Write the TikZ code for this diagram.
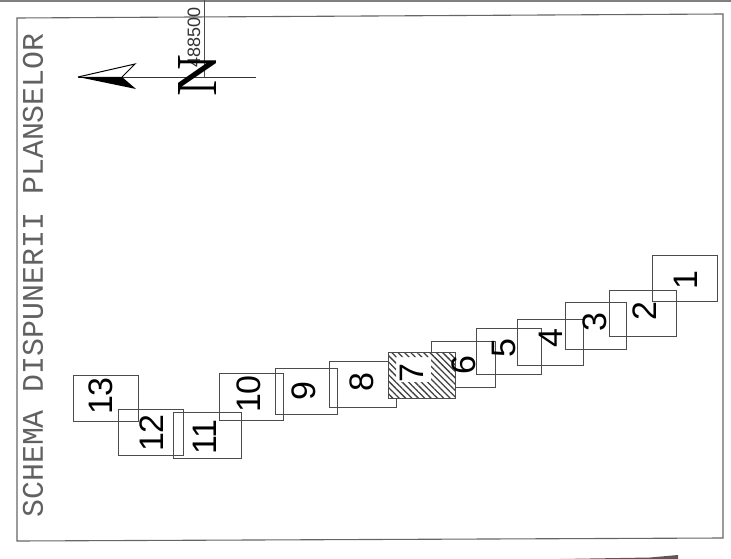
\documentclass[tikz,border=0pt]{standalone}
\usepackage{fontspec}
\setmainfont{Liberation Sans}
\newfontfamily\titlefont{Liberation Mono}
\newfontfamily\northfont{Liberation Serif}
\usetikzlibrary{patterns.meta}
\tikzset{
  sheet/.style={draw=black!70,line width=0.8pt},
  sheetnum/.style={font=\fontsize{34}{34}\selectfont,text=black,rotate=90,inner sep=0pt},
  frameline/.style={draw=black!60,line width=1.1pt}
}
\begin{document}
\begin{tikzpicture}[x=1pt,y=-1pt]
\useasboundingbox (0,0) rectangle (731,559);
\fill[white] (0,0) rectangle (731,559);
\draw[draw=black!50,line width=2pt] (0,1) -- (731,1);
\draw[frameline] (17,18) -- (723,14) -- (723,538) -- (17,541) -- cycle;
\fill[black!65] (560,559) -- (650,557.5) -- (678,555) -- (678,559) -- cycle;

\node[font=\fontsize{29.9}{30}\selectfont\titlefont,text=black!62,rotate=90,inner sep=0pt] (title) at (33,275.5) {SCHEMA DISPUNERII PLANSELOR};

% north arrow
\coordinate (tip) at (78,77);
\coordinate (tail) at (256,77);
\coordinate (notch) at (122,77);
\coordinate (grid) at (204,0);
\draw[black!80,line width=0.7pt] (tip) -- (tail);
\draw[black!70,line width=0.8pt] (grid) -- (204,77);
\fill[black] (tip) -- (136,89) -- (notch) -- cycle;
\draw[black,line width=1pt] (tip) -- (135,64) -- (notch);
\node[font=\fontsize{18}{18}\selectfont,text=black!80,rotate=90,inner sep=0pt,anchor=east] (coord) at (194,7) {488500};
\node[font=\fontsize{58}{58}\selectfont\northfont,text=black,rotate=90,inner sep=0pt] (north) at (198,76) {N};

% sheets
\draw[sheet] (652,255) rectangle (717,301);
\draw[sheet] (609,290) rectangle (676,336);
\draw[sheet] (565,302) rectangle (626,349);
\draw[sheet] (517,319) rectangle (583,365);
\draw[sheet] (476,328) rectangle (541,374);
\draw[sheet] (431,341) rectangle (495,387);
\draw[sheet] (329,361) rectangle (396,407);
\draw[sheet] (275,368) rectangle (337,414);
\draw[sheet] (219,373) rectangle (283,420);
\draw[sheet] (173,412) rectangle (241,458);
\draw[sheet] (118,409) rectangle (183,455);
\draw[sheet] (73,375) rectangle (138,421);
\fill[white] (388,352) rectangle (455,398);
\fill[pattern={Lines[angle=-45,distance=4.5pt,line width=1.3pt]},pattern color=black!75,even odd rule] (388,352) rectangle (455,398) (396,357) rectangle (431,382);
\draw[sheet] (388,352) rectangle (455,398);

\node[sheetnum] (n1) at (686,280) {1};
\node[sheetnum] (n2) at (645,311) {2};
\node[sheetnum] (n3) at (595,322) {3};
\node[sheetnum] (n4) at (551,338) {4};
\node[sheetnum] (n5) at (504,348) {5};
\node[sheetnum] (n6) at (464,365) {6};
\node[sheetnum] (n7) at (412,373) {7};
\node[sheetnum] (n8) at (362,382) {8};
\node[sheetnum] (n9) at (304,391) {9};
\node[sheetnum] (n10) at (249,394) {10};
\node[sheetnum] (n11) at (205,437) {11};
\node[sheetnum] (n12) at (152,433) {12};
\node[sheetnum] (n13) at (101,396) {13};
\end{tikzpicture}
\end{document}
